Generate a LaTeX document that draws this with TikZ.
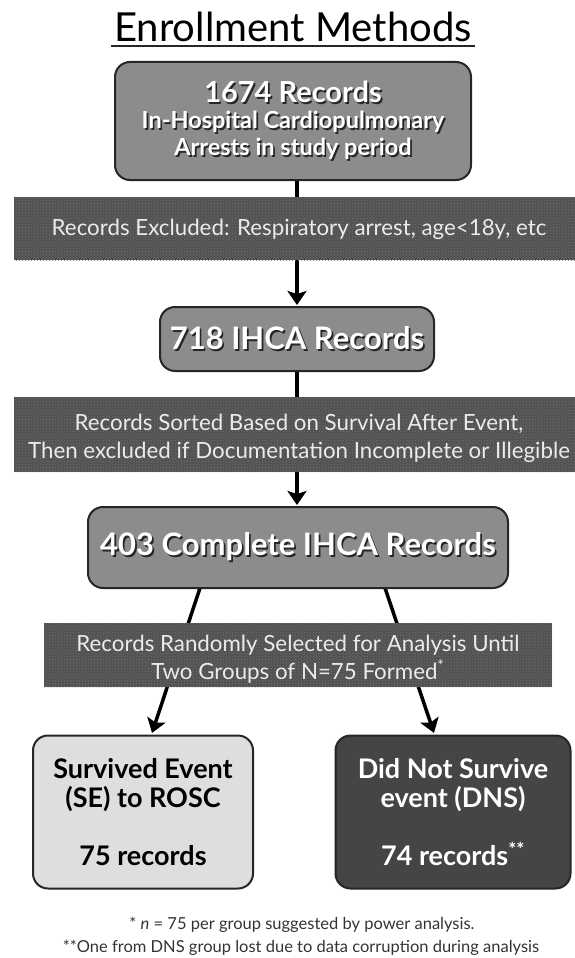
\documentclass[tikz,border=0pt]{standalone}
\usepackage{fontspec}
\setmainfont{Lato}
\usetikzlibrary{patterns,backgrounds,arrows.meta}
\newcommand\shd[1]{\makebox[0pt][l]{\kern1.7pt\raisebox{-1.7pt}{\textcolor{black!85}{#1}}}#1}
\begin{document}
\begin{tikzpicture}[x=1pt,y=-1pt,
  box/.style={draw=black!85, line width=2pt, rounded corners=15pt, fill=black!45,
    text=white, font=\bfseries, align=center, inner sep=0pt},
  band/.style={fill=black!68, postaction={pattern=crosshatch dots, pattern color=black!56}},
  bandtext/.style={text=black!8, align=center, font=\fontsize{22.3}{28}\selectfont},
  conn/.style={line width=3.5pt, black},
  arr/.style={conn, -{Stealth[length=14pt,width=19pt,inset=3pt]}},
  foot/.style={text=black!80, font=\fontsize{16.5}{20}\selectfont}]
\useasboundingbox (0,0) rectangle (575,958);

% title
\node (title) at (293,27) {\fontsize{40}{44}\selectfont Enrollment Methods};
\draw[line width=1.5pt, black!85] (title.base west |- 0,46) -- (title.base east |- 0,46);

% boxes
\node[box, minimum width=356pt, minimum height=118pt, font=\bfseries\fontsize{23.5}{26.5}\selectfont] (b1) at (293,121)
  {\shd{\fontsize{29}{27}\selectfont 1674 Records}\\ \shd{In-Hospital Cardiopulmonary}\\ \shd{Arrests in study period}};
\node[box, minimum width=274pt, minimum height=64pt, font=\bfseries\fontsize{31}{32}\selectfont] (b2) at (297,339)
  {\shd{718 IHCA Records}};
\node[box, minimum width=420pt, minimum height=81pt, font=\bfseries\fontsize{31}{32}\selectfont] (b3) at (298,547.5)
  {\shd{403 Complete IHCA Records}};
\node[box, minimum width=220pt, minimum height=153pt, fill=black!13, text=black,
  font=\bfseries\fontsize{27}{29}\selectfont] (b4) at (143,812)
  {Survived Event\\(SE) to ROSC\\[29pt]75 records};
\node[box, minimum width=235pt, minimum height=153pt, fill=black!73, text=white,
  font=\bfseries\fontsize{27}{29}\selectfont] (b5) at (453,812)
  {Did Not Survive\\event (DNS)\\[29pt]74 records\textsuperscript{**}};

% bands
\fill[band] (14,197) rectangle (575,260);
\node[bandtext] (t1) at (299,229) {Records Excluded: Respiratory arrest, age<18y, etc};
\fill[band] (14,397) rectangle (575,472);
\node[bandtext] (t2) at (299,438) {Records Sorted Based on Survival After Event,\\Then excluded if Documentation Incomplete or Illegible};
\fill[band] (44,623) rectangle (552,687);
\node[bandtext] (t3) at (298,659) {Records Randomly Selected for Analysis Until\\Two Groups of N=75 Formed\textsuperscript{*}};

% footnotes
\node[foot] (f1) at (302,925) {* \textit{n} = 75 per group suggested by power analysis.};
\node[foot] (f2) at (301,948) {**One from DNS group lost due to data corruption during analysis};

% connectors
\coordinate (ls) at (200,588);
\coordinate (le) at (152,733);
\coordinate (rs) at (385,588);
\coordinate (re) at (434,733);
\begin{scope}[on background layer]
\draw[arr] (b1.south -| b2.north) -- ([yshift=1pt]b2.north);
\draw[arr] (b2.south) -- ([yshift=1pt]b3.north -| b2.south);
\draw[arr] (ls) -- (le);
\draw[arr] (rs) -- (re);
\end{scope}
\end{tikzpicture}
\end{document}
